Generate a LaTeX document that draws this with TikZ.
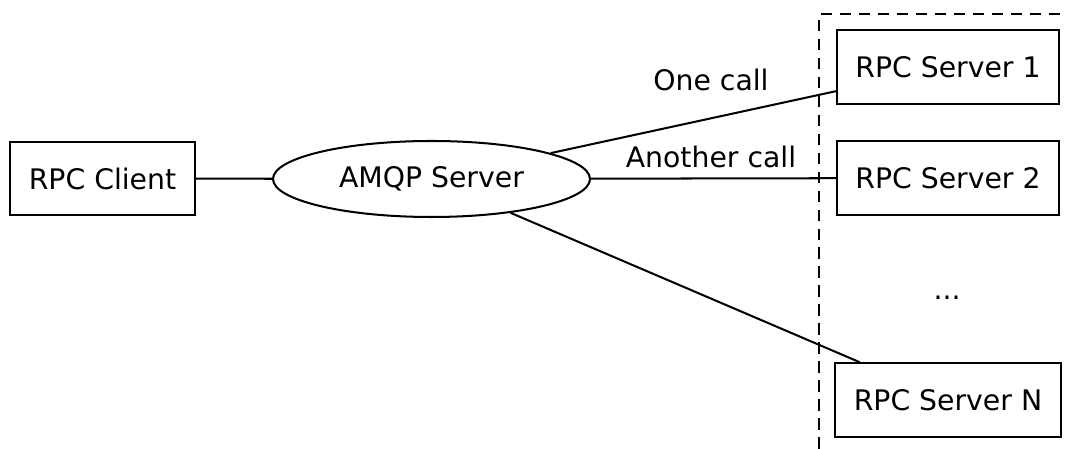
\documentclass[tikz,border=0pt]{standalone}
\usepackage{fontspec}
\setmainfont{DejaVu Sans}
\usetikzlibrary{shapes.geometric}

\begin{document}
\begin{tikzpicture}[font=\fontsize{16.1}{19}\selectfont, line width=1.15pt]
	\tikzstyle{boxStyle}=[shape = rectangle, draw, inner xsep = 0.37cm, minimum height = 1.47cm]
	\tikzstyle{brokerStyle}=[shape = ellipse, draw, inner sep = 0pt, minimum width = 6.34cm, minimum height = 1.52cm]
	\tikzstyle{edgeStyle}=[draw]
	\tikzstyle{groupStyle}=[draw, line width = 1.15pt, dash pattern = on 0.23cm off 0.15cm]
	\useasboundingbox (0,0) rectangle (21.32,8.98);
	% nodes
	\node[boxStyle] (client) at (2.05, 5.41) {RPC Client};
	\node[brokerStyle] (amqp) at (8.63, 5.40) {AMQP Server};
	\node[boxStyle] (srvA) at (18.96, 7.64) {RPC Server 1};
	\node[boxStyle] (srvB) at (18.96, 5.42) {RPC Server 2};
	\node[boxStyle] (srvN) at (18.96, 0.98) {RPC Server N};
	\node (dots) at (18.94, 3.02) {...};
	\node (lblOne) at (14.22, 7.38) {One call};
	\node (lblAnother) at (14.22, 5.84) {Another call};
	% group of servers
	\draw[groupStyle] (16.38, 0) -- (16.38, 8.70) -- (21.32, 8.70);
	% edges
	\draw[edgeStyle] (client) -- (amqp);
	\draw[edgeStyle] (amqp) -- (srvA);
	\draw[edgeStyle] (amqp) -- (srvB);
	\draw[edgeStyle] (amqp) -- (srvN);
\end{tikzpicture}
\end{document}
